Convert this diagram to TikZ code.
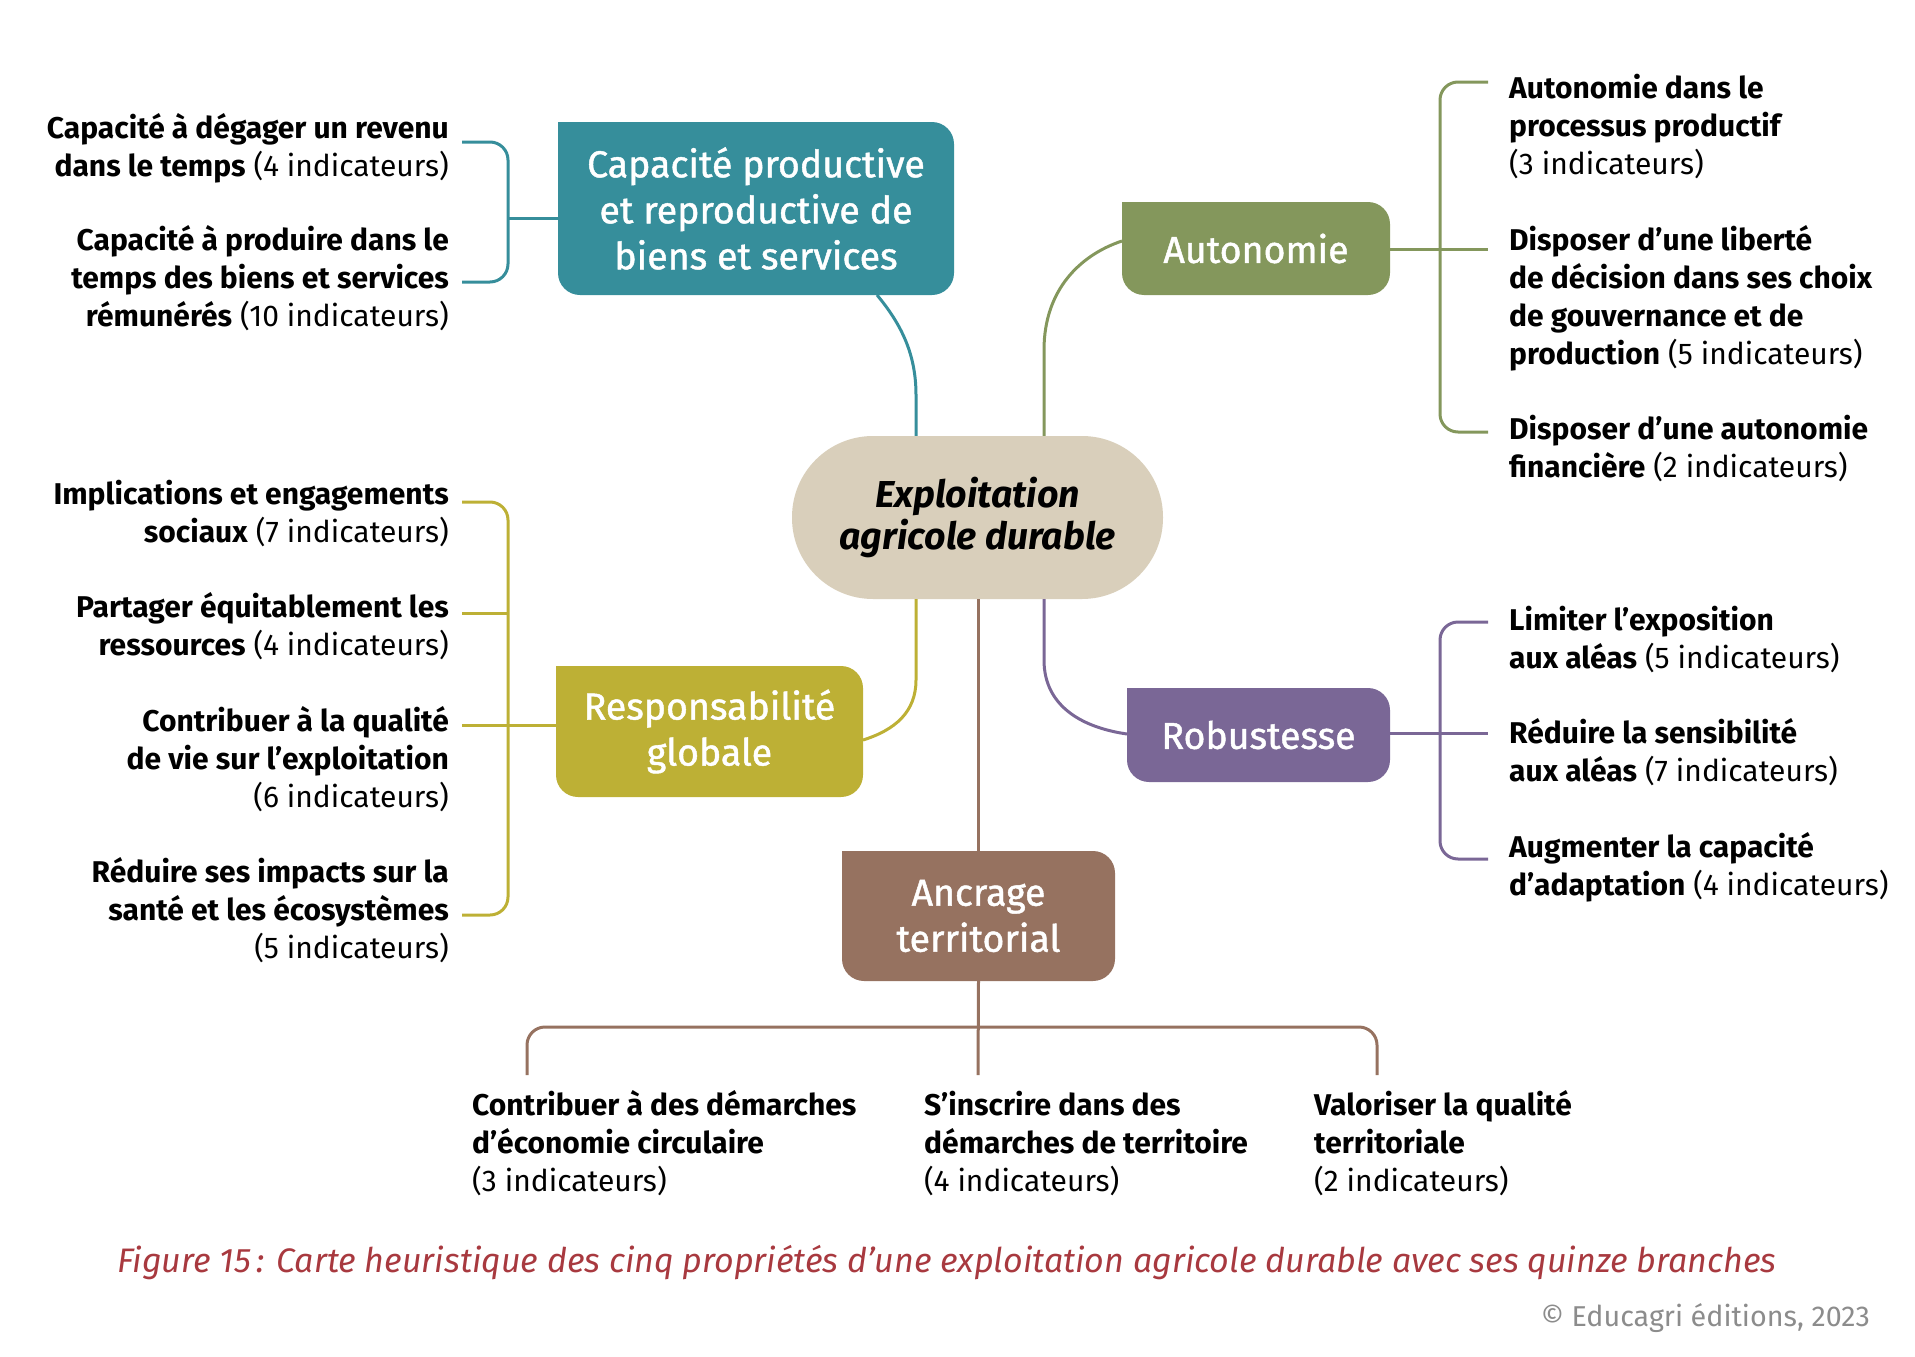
\documentclass[tikz,border=0pt]{standalone}
\usepackage{fontspec}
\setmainfont{Fira Sans}
\newfontfamily\boxfont{Fira Sans}[FakeBold=1.2]
\definecolor{cteal}{HTML}{368E9B}
\definecolor{cgreen}{HTML}{84975C}
\definecolor{colive}{HTML}{BDB035}
\definecolor{cpurple}{HTML}{7A6796}
\definecolor{cbrown}{HTML}{967260}
\definecolor{cbeige}{HTML}{D9CFBB}
\definecolor{cred}{HTML}{A8393F}
\definecolor{cgray}{HTML}{8C8C8C}
\tikzset{
  box/.style={rounded corners=22pt, inner sep=0pt, text=white, align=center,
    font=\boxfont\fontsize{37.5}{46}\selectfont},
  leafR/.style={align=left, anchor=base west, inner sep=0pt, text=black,
    font=\fontsize{30}{38}\selectfont},
  leafL/.style={align=right, anchor=base east, inner sep=0pt, text=black,
    font=\fontsize{30}{38}\selectfont},
  link/.style={line width=3pt},
  brk/.style={line width=3pt, rounded corners=18pt},
}
\begin{document}
\begin{tikzpicture}[x=1pt,y=-1pt]
\useasboundingbox (0,0) rectangle (1915,1357);
% central node
\node[fill=cbeige, rounded corners=81pt, minimum width=371pt, minimum height=163pt,
  inner sep=0pt, align=center, font=\bfseries\itshape\fontsize{37.5}{42}\selectfont]
  (core) at (977.5,517.5) {Exploitation\\agricole durable};
% boxes
\node[box, fill=cteal, minimum width=396pt, minimum height=173pt] (cap) at (756,208.5)
  {Capacité productive\\et reproductive de\\biens et services};
\fill[cteal] (cap.north west) rectangle ++(24,24);
\node[box, fill=cgreen, minimum width=268pt, minimum height=93pt] (auto) at (1256,248.5)
  {Autonomie};
\fill[cgreen] (auto.north west) rectangle ++(24,24);
\node[box, fill=cpurple, minimum width=263pt, minimum height=94pt] (rob) at (1258.5,735)
  {Robustesse};
\fill[cpurple] (rob.north west) rectangle ++(24,24);
\node[box, fill=colive, minimum width=307pt, minimum height=131pt] (resp) at (709.5,731.5)
  {Responsabilité\\globale};
\fill[colive] (resp.north west) rectangle ++(24,24);
\node[box, fill=cbrown, minimum width=273pt, minimum height=130pt] (anc) at (978.5,916)
  {Ancrage\\territorial};
\fill[cbrown] (anc.north west) rectangle ++(24,24);
% coordinates
\coordinate (tc1) at (877,295);
\coordinate (tc2) at (916,395);
\coordinate (gc1) at (1044,350);
\coordinate (gc2) at (1122,241);
\coordinate (pc1) at (1044,660);
\coordinate (pc2) at (1127,734);
\coordinate (oc1) at (916,680);
\coordinate (oc2) at (863,740);
% main connectors
\draw[link,cteal] (tc1) .. controls (902,325) and (916,355) .. (tc2) -- (tc2 |- core.north);
\draw[link,cgreen] (gc1 |- core.north) -- (gc1) .. controls (1044,290) and (1080,255) .. (gc2);
\draw[link,cpurple] (pc1 |- core.south) -- (pc1) .. controls (1044,708) and (1085,728) .. (pc2);
\draw[link,colive] (oc1 |- core.south) -- (oc1) .. controls (916,712) and (895,730) .. (oc2);
\draw[link,cbrown] (anc.north |- core.south) -- (anc.north);
% teal bracket
\coordinate (tj) at (508,218);
\coordinate (t1) at (462,142);
\coordinate (t2) at (462,282);
\draw[link,cteal] (cap.west |- tj) -- (tj);
\draw[brk,cteal] (t1) -| (tj) |- (t2);
% green bracket
\coordinate (gj) at (1440,249);
\coordinate (g1) at (1488,82);
\coordinate (g2) at (1488,249);
\coordinate (g3) at (1488,432);
\draw[link,cgreen] (auto.east |- gj) -- (g2);
\draw[brk,cgreen] (g1) -| (gj) |- (g3);
% purple bracket
\coordinate (pj) at (1440,733);
\coordinate (p1) at (1488,622);
\coordinate (p2) at (1488,733);
\coordinate (p3) at (1488,859);
\draw[link,cpurple] (rob.east |- pj) -- (p2);
\draw[brk,cpurple] (p1) -| (pj) |- (p3);
% olive bracket
\coordinate (oj) at (508,725);
\coordinate (o1) at (462,502);
\coordinate (o2) at (462,613);
\coordinate (o3) at (462,725);
\coordinate (o4) at (462,915);
\draw[link,colive] (resp.west |- oj) -- (o3);
\draw[link,colive] (o2) -- (o2 -| oj);
\draw[brk,colive] (o1) -| (oj) |- (o4);
% brown bracket
\coordinate (bm) at (978,1027);
\coordinate (b1) at (527,1075);
\coordinate (b2) at (978,1075);
\coordinate (b3) at (1377,1075);
\draw[link,cbrown] (anc.south) -- (b2);
\draw[brk,cbrown] (b1) |- (bm) -| (b3);
% left leaves (anchor = baseline of last line)
\node[leafL] (l1) at (449,176) {\textbf{Capacité à dégager un revenu}\\\textbf{dans le temps} (4 indicateurs)};
\node[leafL] (l2) at (449,326) {\textbf{Capacité à produire dans le}\\\textbf{temps des biens et services}\\\textbf{rémunérés} (10 indicateurs)};
\node[leafL] (l3) at (449,542) {\textbf{Implications et engagements}\\\textbf{sociaux} (7 indicateurs)};
\node[leafL] (l4) at (449,655) {\textbf{Partager équitablement les}\\\textbf{ressources} (4 indicateurs)};
\node[leafL] (l5) at (449,807) {\textbf{Contribuer à la qualité}\\\textbf{de vie sur l’exploitation}\\(6 indicateurs)};
\node[leafL] (l6) at (449,958) {\textbf{Réduire ses impacts sur la}\\\textbf{santé et les écosystèmes}\\(5 indicateurs)};
% right leaves
\node[leafR] (r1) at (1509,174) {\textbf{Autonomie dans le}\\\textbf{processus productif}\\(3 indicateurs)};
\node[leafR] (r2) at (1509,364) {\textbf{Disposer d’une liberté}\\\textbf{de décision dans ses choix}\\\textbf{de gouvernance et de}\\\textbf{production} (5 indicateurs)};
\node[leafR] (r3) at (1509,477) {\textbf{Disposer d’une autonomie}\\\textbf{financière} (2 indicateurs)};
\node[leafR] (r4) at (1509,668) {\textbf{Limiter l’exposition}\\\textbf{aux aléas} (5 indicateurs)};
\node[leafR] (r5) at (1509,781) {\textbf{Réduire la sensibilité}\\\textbf{aux aléas} (7 indicateurs)};
\node[leafR] (r6) at (1509,895) {\textbf{Augmenter la capacité}\\\textbf{d’adaptation} (4 indicateurs)};
% bottom leaves
\node[leafR] (bt1) at (472,1191) {\textbf{Contribuer à des démarches}\\\textbf{d’économie circulaire}\\(3 indicateurs)};
\node[leafR] (bt2) at (924,1191) {\textbf{S’inscrire dans des}\\\textbf{démarches de territoire}\\(4 indicateurs)};
\node[leafR] (bt3) at (1314,1191) {\textbf{Valoriser la qualité}\\\textbf{territoriale}\\(2 indicateurs)};
% caption
\node[anchor=base, inner sep=0pt, text=cred, font=\itshape\fontsize{34}{40}\selectfont]
  (caption) at (947,1272) {Figure 15\,: Carte heuristique des cinq propriétés d’une exploitation agricole durable avec ses quinze branches};
\node[anchor=base east, inner sep=0pt, text=cgray, font=\fontsize{28.7}{32}\selectfont]
  (copy) at (1870,1326) {© Educagri éditions, 2023};
\end{tikzpicture}
\end{document}
